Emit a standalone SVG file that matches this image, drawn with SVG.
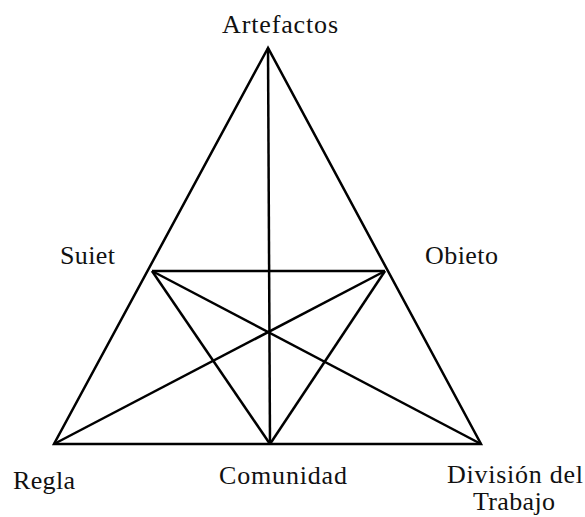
<svg xmlns="http://www.w3.org/2000/svg" width="585" height="517" viewBox="0 0 585 517">
<style>
.ln{stroke:#000;stroke-width:2.5;fill:none;stroke-linejoin:miter;stroke-linecap:butt}
.lb{font-family:"Liberation Serif","Times New Roman",serif;font-size:26px;fill:#111}
</style>
<rect width="585" height="517" fill="#fff"/>
<g id="connectors">
<polygon class="ln" points="268,48 54,444 481,444"/>
<line class="ln" x1="268" y1="48" x2="270" y2="444"/>
<line class="ln" x1="152" y1="271" x2="385" y2="271"/>
<line class="ln" x1="152" y1="271" x2="481" y2="444"/>
<line class="ln" x1="385" y1="271" x2="54" y2="444"/>
<line class="ln" x1="152" y1="271" x2="270" y2="444"/>
<line class="ln" x1="385" y1="271" x2="270" y2="444"/>
</g>
<g id="artefactos"><text class="lb" x="222" y="33" textLength="116" lengthAdjust="spacing">Artefactos</text></g>
<g id="suiet"><text class="lb" x="60" y="264" textLength="55" lengthAdjust="spacing">Suiet</text></g>
<g id="obieto"><text class="lb" x="425" y="264" textLength="73" lengthAdjust="spacing">Obieto</text></g>
<g id="regla"><text class="lb" x="13" y="489" textLength="62" lengthAdjust="spacing">Regla</text></g>
<g id="comunidad"><text class="lb" x="219" y="484" textLength="128" lengthAdjust="spacing">Comunidad</text></g>
<g id="division"><text class="lb" x="447" y="483" textLength="136" lengthAdjust="spacing">División del</text><text class="lb" x="473" y="510" textLength="82" lengthAdjust="spacing">Trabajo</text></g>
</svg>
